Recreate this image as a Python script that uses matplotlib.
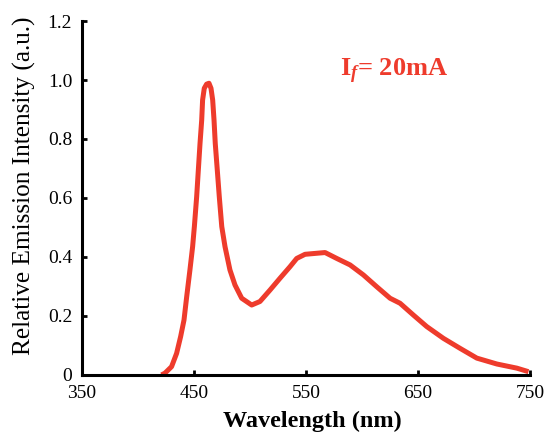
import numpy as np
import matplotlib
matplotlib.use("Agg")
import matplotlib.pyplot as plt

plt.rcParams['font.family'] = 'Liberation Serif'
plt.rcParams['mathtext.fontset'] = 'custom'
plt.rcParams['mathtext.rm'] = 'Liberation Serif'
plt.rcParams['mathtext.it'] = 'Liberation Serif:italic:bold'
plt.rcParams['mathtext.bf'] = 'Liberation Serif:bold'

# spectrum
wavelength = [421, 424.1, 430, 434.5, 438.1, 441.1, 443.5, 446.4, 448.8, 450.4,
              452.4, 453.9, 455.4, 456.9, 457.7, 459.2, 461.3, 463.4, 465.2, 466.7,
              467.9, 469, 470.8, 472.6, 474.8, 477.7, 482.1, 486.6, 492.6, 501.5,
              508.9, 517.9, 526.8, 535.7, 541.7, 549.1, 558, 567, 577.4, 589.3,
              601.2, 613.1, 625, 633.9, 645.8, 657.7, 672.6, 687.5, 702.4, 720.3,
              738.1, 748.5]
intensity = [0.0, 0.006, 0.028, 0.073, 0.13, 0.186, 0.265, 0.356, 0.435, 0.505,
             0.604, 0.695, 0.785, 0.864, 0.932, 0.972, 0.986, 0.989, 0.972, 0.932,
             0.864, 0.785, 0.695, 0.604, 0.503, 0.435, 0.356, 0.305, 0.26, 0.237,
             0.249, 0.288, 0.328, 0.367, 0.395, 0.409, 0.412, 0.415, 0.395, 0.373,
             0.339, 0.299, 0.26, 0.243, 0.203, 0.164, 0.124, 0.09, 0.057, 0.037,
             0.023, 0.011]

xticks = [350, 450, 550, 650, 750]
yticks = [0, 0.2, 0.4, 0.6, 0.8, 1.0, 1.2]
ytick_labels = ['0', '0.2', '0.4', '0.6', '0.8', '1.0', '1.2']

fig = plt.figure(figsize=(5.46, 4.38), dpi=100)
ax = fig.add_axes([0.150, 0.144, 0.821, 0.808])

ax.plot(wavelength, intensity, color='#ee3b2c', linewidth=3.6,
        solid_capstyle='butt', solid_joinstyle='round')

ax.set_xlim(350, 750)
ax.set_ylim(0, 1.2)
ax.set_xticks(xticks)
ax.set_yticks(yticks)
ax.set_yticklabels(ytick_labels)

for s in ['top', 'right']:
    ax.spines[s].set_visible(False)
for s in ['left', 'bottom']:
    ax.spines[s].set_linewidth(2.2)

ax.tick_params(direction='in', length=3.5, width=2, labelsize=14, pad=7)

ax.set_xlabel('Wavelength (nm)', fontsize=17.5, fontweight='bold')
ax.xaxis.set_label_coords(0.514, -0.1)
ax.set_ylabel('Relative Emission Intensity (a.u.)', fontsize=18.2)
ax.yaxis.set_label_coords(-0.102, 0.535)

ax.text(580, 1.03, r'$\mathbf{I}_{\mathit{f}}$= 20mA', color='#ee3b2c',
        fontsize=19, fontweight='bold', va='center', ha='left')

fig.savefig('out.png', dpi=100)
